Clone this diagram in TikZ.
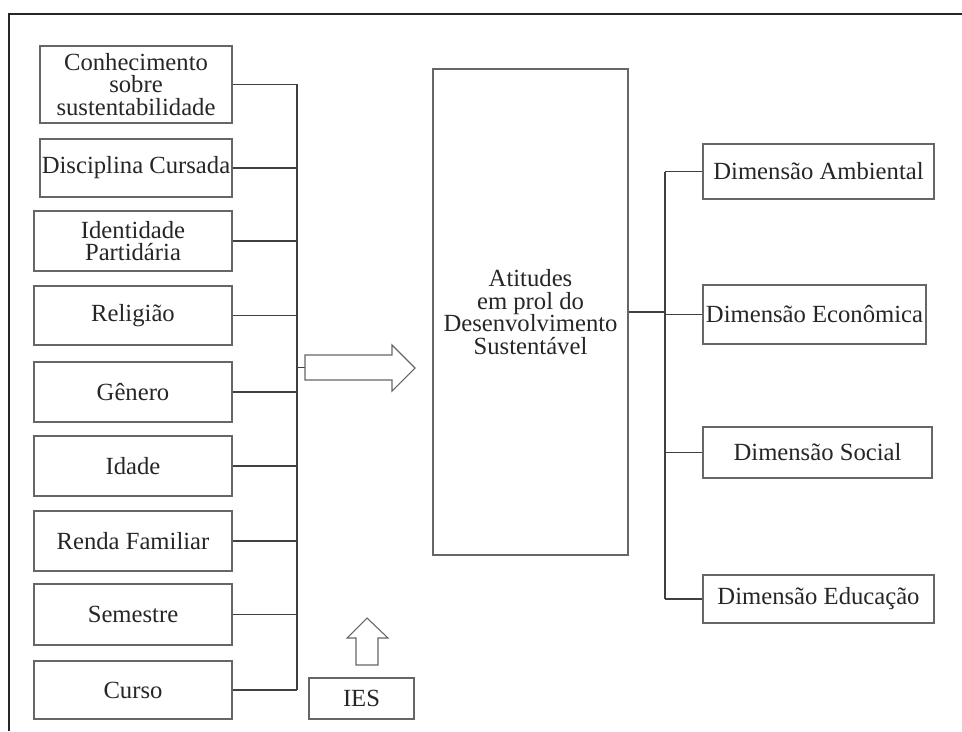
\documentclass[tikz,border=0pt]{standalone}
\usepackage{fontspec}
\setmainfont{Liberation Serif}
\begin{document}
\begin{tikzpicture}[x=0.75pt,y=-0.75pt,
  box/.style={draw=black!60, line width=0.8pt, inner sep=0pt, align=center,
    font=\fontsize{18.5}{17}\selectfont, text=black!85},
  conn/.style={draw=black!75, line width=0.8pt},
  bigarrow/.style={draw=black!60, line width=0.8pt, fill=white, line join=miter}]
\useasboundingbox (0,0) rectangle (962,731);
% frame
\draw[black!85, line width=1.2pt] (9,731) -- (9,14) -- (962,14);
% left boxes
\node[box, minimum width=144pt, minimum height=57.75pt] (b1) at (136,84.5) {Conhecimento\\sobre\\sustentabilidade};
\node[box, minimum width=144pt, minimum height=43.5pt] (b2) at (136,168) {Disciplina Cursada};
\node[box, minimum width=148.5pt, minimum height=45pt] (b3) at (133,241) {Identidade\\Partidária};
\node[box, minimum width=148.5pt, minimum height=44.25pt] (b4) at (133,315.5) {Religião};
\node[box, minimum width=148.5pt, minimum height=45pt] (b5) at (133,392) {Gênero};
\node[box, minimum width=148.5pt, minimum height=45pt] (b6) at (133,466) {Idade};
\node[box, minimum width=148.5pt, minimum height=45pt] (b7) at (133,541) {Renda Familiar};
\node[box, minimum width=148.5pt, minimum height=45.75pt] (b8) at (133,614.5) {Semestre};
\node[box, minimum width=148.5pt, minimum height=43.5pt] (b9) at (133,690) {Curso};
% central box
\node[box, minimum width=146.25pt, minimum height=364.5pt] (c) at (530.5,312) {Atitudes\\em prol do\\Desenvolvimento\\Sustentável};
% IES
\node[box, minimum width=78.75pt, minimum height=30.75pt] (ies) at (361.5,698.5) {IES};
% right boxes
\node[box, minimum width=173.25pt, minimum height=41.25pt] (r1) at (818.5,171.5) {Dimensão Ambiental};
\node[box, minimum width=167.25pt, minimum height=44.25pt] (r2) at (814.5,314.5) {Dimensão Econômica};
\node[box, minimum width=171.75pt, minimum height=38.25pt] (r3) at (817.5,452.5) {Dimensão Social};
\node[box, minimum width=173.25pt, minimum height=36pt] (r4) at (818.5,599) {Dimensão Educação};
% left bus
\coordinate (lb) at (297,0);
\foreach \n in {b1,b2,b3,b4,b5,b6,b7,b8,b9}
  \draw[conn] (\n.east) -- (\n.east -| lb);
\draw[conn] (b1.east -| lb) -- (b9.east -| lb);
% wide right arrow
\coordinate (at) at (305,367.5);
\draw[conn] (at -| lb) -- (at);
\draw[bigarrow] (305,355) -- (392,355) -- (392,345) -- (415,368) -- (392,391) -- (392,380) -- (305,380) -- cycle;
% up arrow
\draw[bigarrow] (356,665) -- (356,638) -- (347,638) -- (367,618) -- (388,638) -- (378,638) -- (378,665) -- cycle;
% right bus
\coordinate (rb) at (665,0);
\draw[conn] (c.east) -- (c.east -| rb);
\foreach \n in {r1,r2,r3,r4}
  \draw[conn] (\n.west) -- (\n.west -| rb);
\draw[conn] (r1.west -| rb) -- (r4.west -| rb);
\end{tikzpicture}
\end{document}
